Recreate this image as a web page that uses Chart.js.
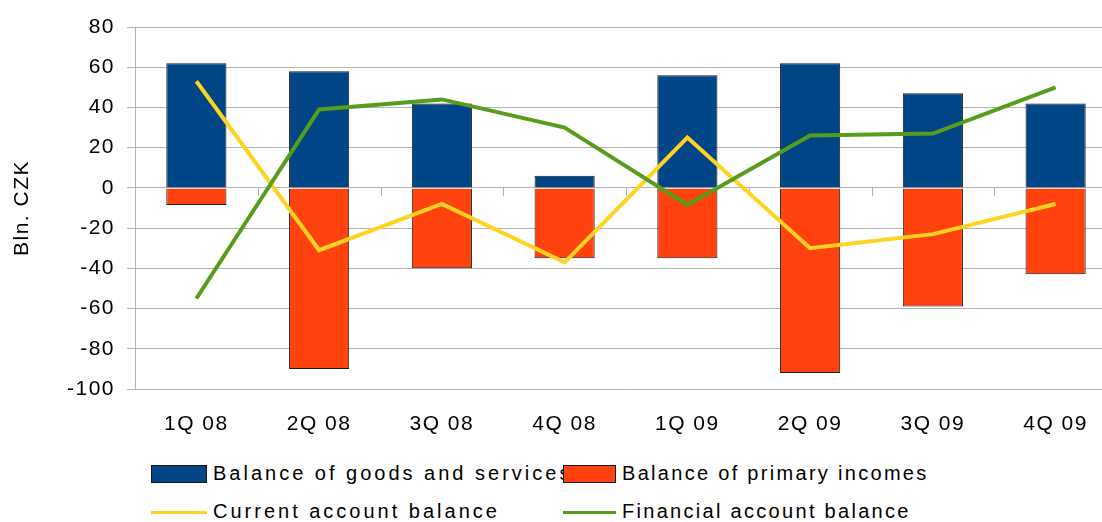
<!DOCTYPE html>
<html>
<head>
<meta charset="utf-8">
<script src="https://cdn.jsdelivr.net/npm/chart.js@4/dist/chart.umd.min.js"></script>
<style>
  html, body { margin: 0; padding: 0; background: #fff; overflow: hidden; }
  #page { position: relative; width: 1102px; height: 522px; overflow: hidden; }
  #wrap { position: absolute; left: 0; top: 0; width: 1120px; height: 445px; }
  .lg { position: absolute; font-family: "Liberation Sans", Arial, sans-serif; font-size: 20px;
        line-height: 20px; color: #000; white-space: nowrap; }
  .box { position: absolute; height: 16px; border: 1px solid #1a1a1a; }
  .ln { position: absolute; height: 3px; }
</style>
</head>
<body>
<div id="page">
  <div id="wrap"><canvas id="c" width="1120" height="445"></canvas></div>
  <div id="legend"></div>
</div>
<script>
// Quarterly balances, bln. CZK
const quarters = ['1Q 08', '2Q 08', '3Q 08', '4Q 08', '1Q 09', '2Q 09', '3Q 09', '4Q 09'];
const goodsServices = [62, 58, 42, 6, 56, 62, 47, 42];
const primaryIncomes = [-8.5, -90, -40, -35, -35, -92, -59, -43];
const currentAccount = [53, -31, -8, -37, 25, -30, -23, -8];
const financialAccount = [-55, 39, 44, 30, -8.5, 26, 27, 50];
const yTicks = [80, 60, 40, 20, 0, -20, -40, -60, -80, -100];

const seriesNames = ['Balance of goods and services', 'Balance of primary incomes',
                     'Current account balance', 'Financial account balance'];
const colors = ['#004586', '#ff420e', '#ffd320', '#579d1c'];

const FONT = { family: '"Liberation Sans", Arial, sans-serif', size: 21 };

// letter spacing for all canvas text, plus the small category ticks on the zero line
const axisDecor = {
  id: 'axisDecor',
  beforeDraw(chart) { chart.ctx.letterSpacing = '1.5px'; },
  beforeDatasetsDraw(chart) {
    const ctx = chart.ctx, xs = chart.scales.x, ys = chart.scales.y;
    const y0 = ys.getPixelForValue(0);
    ctx.save();
    ctx.strokeStyle = '#b3b3b3';
    ctx.lineWidth = 1;
    const n = quarters.length;
    for (let i = 1; i < n; i++) {
      const xb = Math.round((xs.getPixelForTick(i - 1) + xs.getPixelForTick(i)) / 2) + 0.5;
      ctx.beginPath();
      ctx.moveTo(xb, y0);
      ctx.lineTo(xb, y0 + 8);
      ctx.stroke();
    }
    ctx.restore();
  }
};

new Chart(document.getElementById('c'), {
  type: 'bar',
  data: {
    labels: quarters,
    datasets: [
      { type: 'bar', label: seriesNames[0], data: goodsServices, backgroundColor: colors[0],
        borderColor: '#1a1a1a', borderWidth: 1, grouped: false, order: 3,
        barPercentage: 0.49, categoryPercentage: 1 },
      { type: 'bar', label: seriesNames[1], data: primaryIncomes, backgroundColor: colors[1],
        borderColor: '#1a1a1a', borderWidth: 1, grouped: false, order: 2,
        barPercentage: 0.49, categoryPercentage: 1 },
      { type: 'line', label: seriesNames[2], data: currentAccount, borderColor: colors[2],
        borderWidth: 4, tension: 0, pointRadius: 0, fill: false, order: 1 },
      { type: 'line', label: seriesNames[3], data: financialAccount, borderColor: colors[3],
        borderWidth: 4, tension: 0, pointRadius: 0, fill: false, order: 0 }
    ]
  },
  options: {
    responsive: false,
    animation: false,
    events: [],
    layout: { padding: { top: 27, right: 3, left: 0, bottom: 0 } },
    plugins: { legend: { display: false }, tooltip: { enabled: false } },
    scales: {
      x: {
        grid: { display: false, drawTicks: false },
        border: { display: false },
        ticks: { font: FONT, color: '#000', padding: 23, maxRotation: 0 },
        afterFit(s) { s.height = 56; }
      },
      y: {
        min: -100, max: 80,
        afterBuildTicks(s) { s.ticks = yTicks.map(v => ({ value: v })); },
        grid: { color: '#b3b3b3', lineWidth: 1, tickLength: 8 },
        border: { color: '#b3b3b3', width: 1 },
        ticks: { font: FONT, color: '#000', padding: 12 },
        title: { display: true, text: 'Bln. CZK', font: FONT, color: '#000',
                 padding: { top: 10, bottom: 0 } },
        afterFit(s) { s.width = 135; }
      }
    }
  },
  plugins: [axisDecor]
});

// two-column legend under the plot
const legendItems = [
  { kind: 'box', x: 151, w: 56, top: 465, textX: 213, textTop: 463, spacing: 3 },
  { kind: 'box', x: 563, w: 53, top: 465, textX: 622, textTop: 463, spacing: 2.3 },
  { kind: 'line', x: 151, w: 56, top: 511, textX: 213, textTop: 501, spacing: 3 },
  { kind: 'line', x: 563, w: 53, top: 511, textX: 622, textTop: 501, spacing: 2.3 }
];
const lg = document.getElementById('legend');
legendItems.forEach((it, i) => {
  const sw = document.createElement('div');
  sw.className = it.kind === 'box' ? 'box' : 'ln';
  sw.style.left = it.x + 'px';
  sw.style.top = it.top + 'px';
  sw.style.width = (it.kind === 'box' ? it.w - 2 : it.w) + 'px';
  sw.style.background = colors[i];
  lg.appendChild(sw);
  const t = document.createElement('div');
  t.className = 'lg';
  t.style.left = it.textX + 'px';
  t.style.top = it.textTop + 'px';
  t.style.letterSpacing = it.spacing + 'px';
  t.textContent = seriesNames[i];
  lg.appendChild(t);
});
</script>
</body>
</html>
